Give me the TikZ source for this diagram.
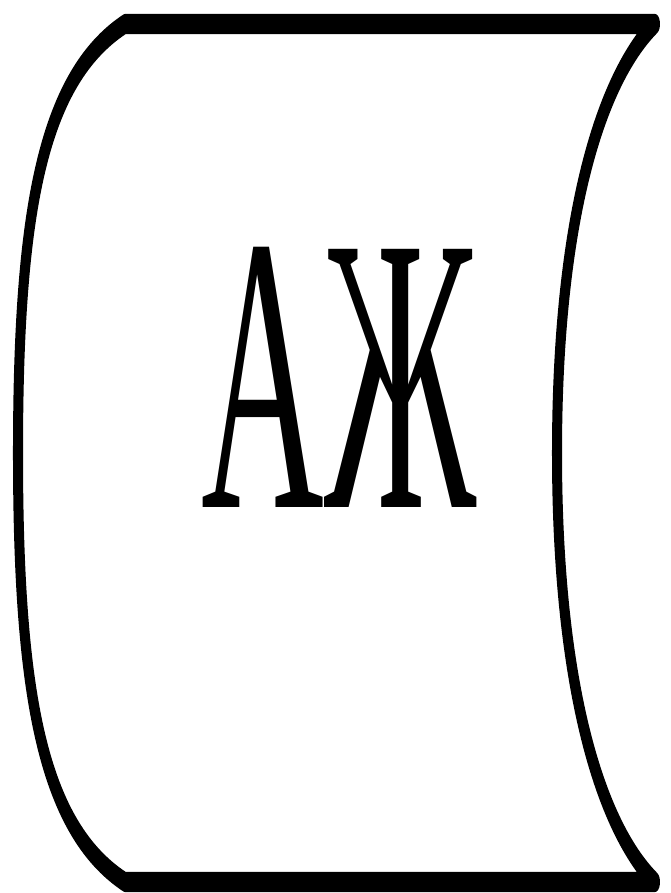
\documentclass[tikz,border=0pt]{standalone}
\usepackage{fontspec}
\usepackage{graphicx}
\usepackage{xcolor}
\usepackage{tikz}
\newfontfamily\cyrfont{Liberation Serif}

\begin{document}
\begin{tikzpicture}
\useasboundingbox (0,0) rectangle (13.42,17.86);
\begin{scope}[transform canvas={yscale=2}]
\draw[line width=5.7pt, line join=round] (2.5,8.69) -- (13.1,8.69)
  .. controls (12.0,8.13) and (11.14,6.73) .. (11.14,4.40)
  .. controls (11.14,2.07) and (12.0,0.67) .. (13.1,0.11) -- (2.5,0.11)
  .. controls (0.8,0.67) and (0.36,2.07) .. (0.36,4.40)
  .. controls (0.36,6.73) and (0.8,8.13) .. cycle;
\end{scope}
\node[inner sep=0pt] (letters) at (6.79,10.32) {\resizebox{5.5cm}{5.2cm}{\cyrfont АЖ}};
\end{tikzpicture}
\end{document}
